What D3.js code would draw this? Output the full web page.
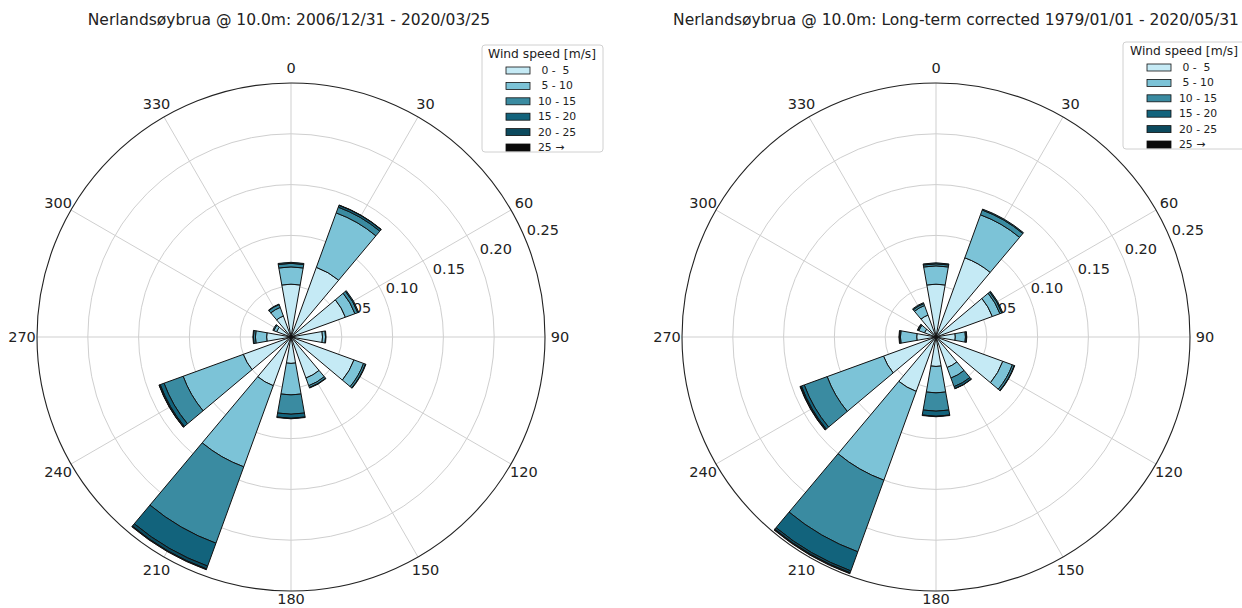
<!DOCTYPE html>
<html>
<head>
<meta charset="utf-8">
<script src="https://cdn.jsdelivr.net/npm/d3@7"></script>
<style>
  html, body { margin: 0; padding: 0; background: #fff; }
  svg { display: block; font-family: "DejaVu Sans", sans-serif; }
</style>
</head>
<body>
<svg id="chart" width="1242" height="608"></svg>
<script>
// ---- data ----
const directions = [0, 30, 60, 90, 120, 150, 180, 210, 240, 270, 300, 330];
const speedBins = [" 0 -  5", " 5 - 10", "10 - 15", "15 - 20", "20 - 25", "25 →"];
const radialTicks = [0.05, 0.10, 0.15, 0.20, 0.25];
const angleTicks = [0, 30, 60, 90, 120, 150, 180, 210, 240, 270, 300, 330];
const binColors = ["#c5eaf5", "#7cc3d7", "#3a8ba1", "#12637c", "#0c4a5e", "#0a0a0a"];

const leftTitle = "Nerlandsøybrua @ 10.0m: 2006/12/31 - 2020/03/25";
const rightTitle = "Nerlandsøybrua @ 10.0m: Long-term corrected 1979/01/01 - 2020/05/31";

// measured 2006-2020 (frequency per direction, per speed bin)
const obs_0_5   = [0.052, 0.073, 0.057, 0.031, 0.066, 0.043, 0.026, 0.051, 0.050, 0.024, 0.015, 0.022];
const obs_5_10  = [0.017, 0.057, 0.010, 0.003, 0.010, 0.008, 0.031, 0.085, 0.063, 0.011, 0.003, 0.009];
const obs_10_15 = [0.0035, 0.006, 0.003, 0.0005, 0.002, 0.002, 0.019, 0.080, 0.020, 0.002, 0.001, 0.003];
const obs_15_20 = [0.001, 0.002, 0.001, 0.0, 0.0005, 0.0005, 0.004, 0.024, 0.004, 0.0005, 0.0, 0.0005];
const obs_20_25 = [0.0, 0.0003, 0.0, 0.0, 0.0, 0.0, 0.0005, 0.003, 0.001, 0.0, 0.0, 0.0];
const obs_25p   = [0.0, 0.0, 0.0, 0.0, 0.0, 0.0, 0.0, 0.0008, 0.0003, 0.0, 0.0, 0.0];

// long-term corrected 1979-2020
const ltc_0_5   = [0.052, 0.083, 0.059, 0.019, 0.070, 0.032, 0.029, 0.057, 0.055, 0.019, 0.012, 0.023];
const ltc_5_10  = [0.018, 0.045, 0.008, 0.010, 0.010, 0.011, 0.026, 0.093, 0.059, 0.016, 0.006, 0.010];
const ltc_10_15 = [0.002, 0.005, 0.002, 0.001, 0.002, 0.009, 0.018, 0.075, 0.024, 0.001, 0.001, 0.002];
const ltc_15_20 = [0.001, 0.001, 0.001, 0.0003, 0.0005, 0.002, 0.005, 0.020, 0.003, 0.0005, 0.0005, 0.001];
const ltc_20_25 = [0.0, 0.0, 0.0, 0.0, 0.0, 0.0003, 0.0005, 0.002, 0.001, 0.0, 0.0, 0.0];
const ltc_25p   = [0.0, 0.0, 0.0, 0.0, 0.0, 0.0, 0.0, 0.001, 0.0005, 0.0, 0.0, 0.0];

const obsSeries = [obs_0_5, obs_5_10, obs_10_15, obs_15_20, obs_20_25, obs_25p];
const ltcSeries = [ltc_0_5, ltc_5_10, ltc_10_15, ltc_15_20, ltc_20_25, ltc_25p];

// ---- drawing ----
const svg = d3.select("#chart");
const R = 254;
const rMax = 0.25;
const opening = 20; // degrees

function drawRose(cx, cy, series, title, titleX, legend) {
  const g = svg.append("g").attr("transform", `translate(${cx},${cy})`);
  const r = d3.scaleLinear().domain([0, rMax]).range([0, R]);
  const rad = d => d * Math.PI / 180;

  // grid rings
  g.selectAll("circle.ring").data(radialTicks.filter(t => t < rMax - 1e-9)).join("circle")
    .attr("r", d => r(d)).attr("fill", "none").attr("stroke", "#cfcfcf").attr("stroke-width", 1);
  // spokes
  g.selectAll("line.spoke").data(angleTicks).join("line")
    .attr("x1", 0).attr("y1", 0)
    .attr("x2", d => R * Math.sin(rad(d))).attr("y2", d => -R * Math.cos(rad(d)))
    .attr("stroke", "#cfcfcf").attr("stroke-width", 1);

  // radial tick labels
  const la = rad(67.5);
  g.selectAll("text.rl").data(radialTicks).join("text")
    .attr("x", d => r(d) * Math.sin(la) + 1)
    .attr("y", d => -r(d) * Math.cos(la) - 9)
    .attr("dominant-baseline", "middle")
    .attr("font-size", 14.5).attr("fill", "#222")
    .text(d => d.toFixed(2));

  // stacked bars
  const stack = [];
  directions.forEach((dir, i) => {
    let cum = 0;
    series.forEach((s, k) => {
      const v = s[i];
      if (v > 0) stack.push({ dir, k, inner: cum, outer: cum + v });
      cum += v;
    });
  });
  const arc = d3.arc()
    .innerRadius(d => r(d.inner)).outerRadius(d => r(d.outer))
    .startAngle(d => rad(d.dir - opening / 2)).endAngle(d => rad(d.dir + opening / 2));
  g.selectAll("path.bar").data(stack).join("path")
    .attr("d", arc)
    .attr("fill", d => binColors[d.k])
    .attr("stroke", "#111").attr("stroke-width", 1).attr("stroke-linejoin", "miter");

  // outer spine
  g.append("circle").attr("r", R).attr("fill", "none").attr("stroke", "#222").attr("stroke-width", 1.1);

  // angle labels (bottom label kept inside the canvas)
  const labR = R + 15;
  g.selectAll("text.al").data(angleTicks).join("text")
    .attr("x", d => labR * Math.sin(rad(d)))
    .attr("y", d => {
      const y = -labR * Math.cos(rad(d));
      return d === 180 ? Math.min(y, 608 - cy - 4) : y + 5;
    })
    .attr("text-anchor", "middle")
    .attr("font-size", 14.5).attr("fill", "#222")
    .text(d => d);

  // title
  svg.append("text").attr("x", titleX).attr("y", 25)
    .attr("text-anchor", "middle").attr("font-size", 15.5).attr("fill", "#222")
    .text(title);

  // legend
  const lg = svg.append("g").attr("transform", `translate(${legend.x},${legend.y})`);
  lg.append("rect").attr("x", 0).attr("y", 0).attr("width", legend.w).attr("height", 107)
    .attr("rx", 3).attr("fill", "#fff").attr("stroke", "#d0d0d0").attr("stroke-width", 1);
  lg.append("text").attr("x", legend.titleX).attr("y", 9)
    .attr("text-anchor", "middle").attr("dominant-baseline", "central")
    .attr("font-size", 12.3).attr("fill", "#222").text("Wind speed [m/s]");
  const items = lg.selectAll("g.item").data(speedBins).join("g")
    .attr("transform", (d, i) => `translate(0,${25.5 + i * 15.4})`);
  items.append("rect").attr("x", 24).attr("y", -3.5).attr("width", 24).attr("height", 7)
    .attr("fill", (d, i) => binColors[i]).attr("stroke", "#111").attr("stroke-width", 0.8);
  items.append("text").attr("x", 56).attr("y", 0)
    .attr("dominant-baseline", "central").attr("font-size", 10.8).attr("fill", "#222")
    .style("white-space", "pre")
    .text(d => d);
}

drawRose(291, 337, obsSeries, leftTitle, 289, { x: 482, y: 45, w: 121, titleX: 60 });
drawRose(936, 337, ltcSeries, rightTitle, 956, { x: 1123, y: 42, w: 130, titleX: 61 });
</script>
</body>
</html>
